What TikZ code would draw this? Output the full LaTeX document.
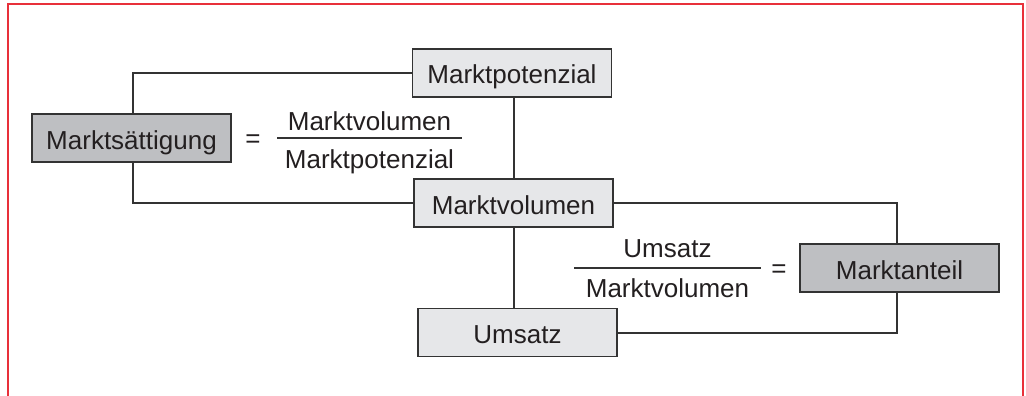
\documentclass[tikz,border=0pt]{standalone}
\usepackage{fontspec}
\setmainfont{Liberation Sans}
\begin{document}
\definecolor{ink}{HTML}{231F20}
\definecolor{boxline}{HTML}{333333}
\definecolor{darkfill}{HTML}{BEBFC2}
\definecolor{lightfill}{HTML}{E6E7E9}
\definecolor{framered}{HTML}{E8303A}
\begin{tikzpicture}[x=1pt,y=-1pt,
  every node/.style={font=\fontsize{26}{30}\selectfont, text=ink},
  box/.style={draw=boxline, line width=1.4pt, minimum width=199pt, minimum height=48pt,
    inner sep=0pt, text height=22pt, text depth=0pt},
  keybox/.style={box, fill=darkfill},
  valbox/.style={box, fill=lightfill},
  link/.style={draw=boxline, line width=1.2pt},
  bar/.style={draw=boxline, line width=1.1pt},
  frac/.style={anchor=base, inner sep=0pt}]
\useasboundingbox (0,0) rectangle (1026,396);
\fill[white] (0,0) rectangle (1026,396);
% open red frame
\draw[framered, line width=2pt] (8,396) -- (8,4.5) -- (1023,4.5) -- (1023,396);

% connectors (drawn first so boxes cover them)
\coordinate (lx) at (133,0);
\coordinate (rx) at (897,0);
\coordinate (mx) at (514,0);
\coordinate (potw) at (413,73);
\coordinate (volw) at (414,203);
\coordinate (vole) at (613,203);
\coordinate (umse) at (617,333);
\draw[link] (potw) -- (lx |- potw) -- (lx |- volw) -- (volw);
\draw[link] (vole) -- (rx |- vole) -- (rx |- umse) -- (umse);
\draw[link] (mx |- potw) -- (mx |- umse);

% boxes
\node[keybox] (sat) at (131.5,138) {Marktsättigung};
\node[valbox] (pot) at (512,73) {Marktpotenzial};
\node[valbox] (vol) at (513.5,203) {Marktvolumen};
\node[keybox] (ant) at (899.5,268) {Marktanteil};
\node[valbox] (ums) at (517.5,332.5) {Umsatz};

% market saturation ratio
\node[frac] (eq1) at (253,147) {=};
\node[frac] (n1) at (369.5,130) {Marktvolumen};
\node[frac] (d1) at (369.5,168) {Marktpotenzial};
\coordinate (b1l) at (277,138);
\coordinate (b1r) at (462,138);
\draw[bar] (b1l) -- (b1r);

% market share ratio
\node[frac] (n2) at (667.5,257) {Umsatz};
\node[frac] (d2) at (667.5,297) {Marktvolumen};
\coordinate (b2l) at (574,268);
\coordinate (b2r) at (761,268);
\draw[bar] (b2l) -- (b2r);
\node[frac] (eq2) at (779,277) {=};
\end{tikzpicture}
\end{document}
